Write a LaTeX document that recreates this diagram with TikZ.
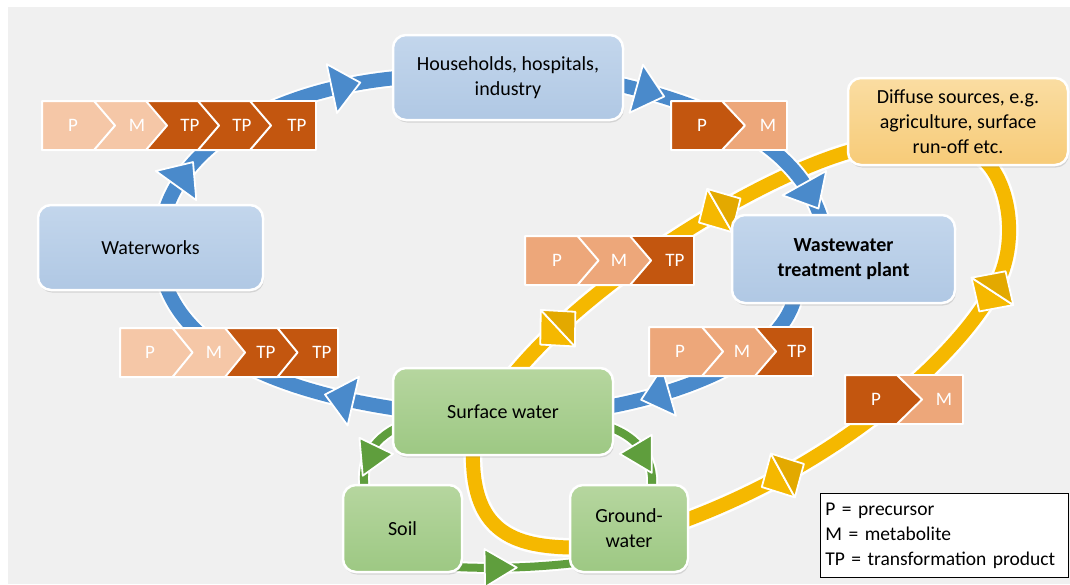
\documentclass[tikz,border=0pt]{standalone}
\usepackage{fontspec}
\setmainfont{Carlito}
\usetikzlibrary{calc,decorations.markings,shadows}
\definecolor{bgc}{HTML}{F0F0F0}
\definecolor{bandb}{HTML}{4A8ACB}
\definecolor{bandg}{HTML}{5F9E3D}
\definecolor{bandy}{HTML}{F5B800}
\definecolor{bandyd}{HTML}{E3A900}
\definecolor{boxbT}{HTML}{C3D6EC}
\definecolor{boxbB}{HTML}{B0C8E4}
\definecolor{boxgT}{HTML}{B6D69F}
\definecolor{boxgB}{HTML}{9DC883}
\definecolor{boxyT}{HTML}{FADDA2}
\definecolor{boxyB}{HTML}{F7CB78}
\definecolor{chL}{HTML}{F5C7A7}
\definecolor{chM}{HTML}{EDA77A}
\definecolor{chD}{HTML}{C3560F}
\pgfdeclarelayer{bglayer}
\pgfdeclarelayer{bands}
\pgfsetlayers{bglayer,bands,main}
\tikzset{
  box/.style={rounded corners=13pt, draw=white, line width=2.5pt, align=center, inner sep=2pt,
    font=\fontsize{20}{25}\selectfont,
    drop shadow={opacity=0.25, shadow xshift=1pt, shadow yshift=-2.5pt}},
  bluebox/.style={box, top color=boxbT, bottom color=boxbB},
  greenbox/.style={box, top color=boxgT, bottom color=boxgB},
  yellowbox/.style={box, top color=boxyT, bottom color=boxyB},
  yband/.style={draw=bandy, line width=14pt, preaction={draw=white, line width=19pt}},
  bband/.style={draw=bandb, line width=14pt, preaction={draw=white, line width=18pt}},
  gband/.style={draw=bandg, line width=8pt, preaction={draw=white, line width=12pt}},
  barr/.style={postaction={decorate, decoration={markings, mark=at position #1 with {
    \filldraw[fill=bandb, draw=white, line width=1.8pt, line join=round] (16,0) -- (-13,25) -- (-13,-25) -- cycle;}}}},
  garr/.style={postaction={decorate, decoration={markings, mark=at position #1 with {
    \filldraw[fill=bandg, draw=white, line width=1.8pt, line join=round] (17,0) -- (-15,19) -- (-15,-19) -- cycle;}}}},
  garrabs/.style 2 args={postaction={decorate, decoration={markings, mark=at position #1 with {
    \pgftransformresetnontranslations
    \filldraw[fill=bandg, draw=white, line width=1.8pt, line join=round, rotate=#2, xshift=8pt] (17,0) -- (-15,19) -- (-15,-19) -- cycle;}}}},
  ydia/.style={postaction={decorate, decoration={markings, mark=at position #1 with {
    \filldraw[fill=bandy, draw=white, line width=1.8pt, line join=round] (0,-25) -- (24,0) -- (0,25) -- cycle;
    \filldraw[fill=bandyd, draw=white, line width=1.8pt, line join=round] (0,-25) -- (-24,0) -- (0,25) -- cycle;}}}},
  chevst/.style={draw=white, line width=2pt, line join=round},
  chlab/.style={text=white, font=\fontsize{19}{22}\selectfont, inner sep=0pt},
}
\newcommand{\chvpt}[5]{\filldraw[chevst, fill=#5] (#1,#2) -- ++(#3,0) -- ++(#4,24.5) -- ++(-#4,24.5) -- ++(-#3,0) -- cycle;}
\newcommand{\chvbox}[4]{\filldraw[chevst, fill=#4] (#1,#2) rectangle ++(#3,49);}
\begin{document}
\begin{tikzpicture}[x=1pt,y=-1pt]
\useasboundingbox (0,0) rectangle (1070,584);
\begin{pgfonlayer}{bglayer}
\fill[white] (0,0) rectangle (1070,584);
\fill[bgc] (8,7) rectangle (1070,584);
\end{pgfonlayer}

% boxes
\node[bluebox, minimum width=230pt, minimum height=85pt] (hh) at (508,77.5) {Households, hospitals,\\industry};
\node[bluebox, minimum width=225pt, minimum height=85pt] (ww) at (150.5,247.5) {Waterworks};
\node[bluebox, minimum width=223pt, minimum height=88pt, font=\fontsize{20}{25}\selectfont\bfseries] (wwtp) at (843.5,259) {Wastewater\\treatment plant};
\node[yellowbox, minimum width=220pt, minimum height=87pt] (diff) at (958,121.5) {Diffuse sources, e.g.\\agriculture, surface\\run-off etc.};
\node[greenbox, minimum width=220pt, minimum height=87pt] (sw) at (503,411.5) {Surface water};
\node[greenbox, minimum width=119pt, minimum height=87pt] (soil) at (402.5,528.5) {Soil};
\node[greenbox, minimum width=118pt, minimum height=87pt] (gw) at (629,528.5) {Ground-\\water};

% bands
\begin{pgfonlayer}{bands}
\draw[yband, ydia=0.36, ydia=0.84] ($(diff.west)+(10,28)$) .. controls (760,175) and (590,280) .. ($(sw.north)+(9,10)$);
\draw[yband, ydia=0.27, ydia=0.79] ($(diff.south)+(22,-10)$) .. controls (1012,180) and (1020,250) .. (992,292) .. controls (960,350) and (850,460) .. ($(gw.east)+(-10,-6)$);
\draw[yband] ($(sw.south)+(-30,-10)$) .. controls (470,530) and (510,548) .. ($(gw.west)+(10,19)$);
\draw[gband, garrabs={0.45}{5}] ($(soil.north)+(-37,10)$) .. controls (360,465) and (368,440) .. ($(sw.west)+(10,14)$);
\draw[gband, garrabs={0.45}{180}] ($(gw.north)+(22,10)$) .. controls (657,462) and (640,436) .. ($(sw.east)+(-10,14)$);
\draw[gband, garr=0.43] ($(soil.south)+(30,-8)$) .. controls (480,570) and (540,568) .. ($(gw.south west)+(20,-12)$);
\draw[bband, barr=0.15, barr=0.8] ($(ww.north)+(14,10)$) .. controls (186,140) and (280,88) .. ($(hh.west)+(10,0)$);
\draw[bband, barr=0.135, barr=0.88] ($(hh.east)+(-10,6)$) .. controls (700,103) and (800,140) .. ($(wwtp.north)+(-21,10)$);
\draw[bband, barr=0.77] ($(wwtp.south)+(-48,-10)$) .. controls (785,350) and (700,390) .. ($(sw.east)+(-10,-4)$);
\draw[bband, barr=0.22] ($(sw.west)+(10,-2)$) .. controls (300,395) and (190,360) .. ($(ww.south)+(14,-10)$);
\end{pgfonlayer}

% chevron groups
% top left
\chvbox{250}{101}{66}{chD}
\chvpt{198}{101}{52}{21}{chD}
\chvpt{146}{101}{52}{21}{chD}
\chvpt{94}{101}{52}{21}{chL}
\chvpt{42}{101}{52}{21}{chL}
\node[chlab] (tl1) at (73,125.5) {P};
\node[chlab] (tl2) at (137,125.5) {M};
\node[chlab] (tl3) at (190,125.5) {TP};
\node[chlab] (tl4) at (242,125.5) {TP};
\node[chlab] (tl5) at (297,125.5) {TP};
% households right
\chvbox{722}{101}{65}{chM}
\chvpt{671}{101}{51}{23}{chD}
\node[chlab] (hr1) at (702,125.5) {P};
\node[chlab] (hr2) at (768,125.5) {M};
% middle
\chvbox{630}{236}{64}{chD}
\chvpt{577.5}{236}{52.5}{21}{chM}
\chvpt{525}{236}{52.5}{21}{chM}
\node[chlab] (md1) at (557,260.5) {P};
\node[chlab] (md2) at (619,260.5) {M};
\node[chlab] (md3) at (675,260.5) {TP};
% right middle
\chvbox{755}{327}{58}{chD}
\chvpt{702}{327}{53}{21}{chM}
\chvpt{649}{327}{53}{21}{chM}
\node[chlab] (rm1) at (680,351.5) {P};
\node[chlab] (rm2) at (742,351.5) {M};
\node[chlab] (rm3) at (797,351.5) {TP};
% left bottom
\chvbox{277.5}{328}{60.5}{chD}
\chvpt{225}{328}{52.5}{20}{chD}
\chvpt{172.5}{328}{52.5}{20}{chL}
\chvpt{120}{328}{52.5}{20}{chL}
\node[chlab] (lb1) at (150,352.5) {P};
\node[chlab] (lb2) at (214,352.5) {M};
\node[chlab] (lb3) at (266,352.5) {TP};
\node[chlab] (lb4) at (322,352.5) {TP};
% bottom right
\chvbox{897}{375}{66}{chM}
\chvpt{845}{375}{52}{25}{chD}
\node[chlab] (br1) at (876,399.5) {P};
\node[chlab] (br2) at (944,399.5) {M};

% legend
\node[draw=black, line width=0.8pt, fill=white, anchor=north west, text width=238pt, inner xsep=5pt, inner ysep=4pt, minimum height=84pt, align=left, font=\fontsize{19.5}{25}\selectfont] (legend) at (820,493) {P = precursor\\M = metabolite\\TP = transformation product};
\end{tikzpicture}
\end{document}
